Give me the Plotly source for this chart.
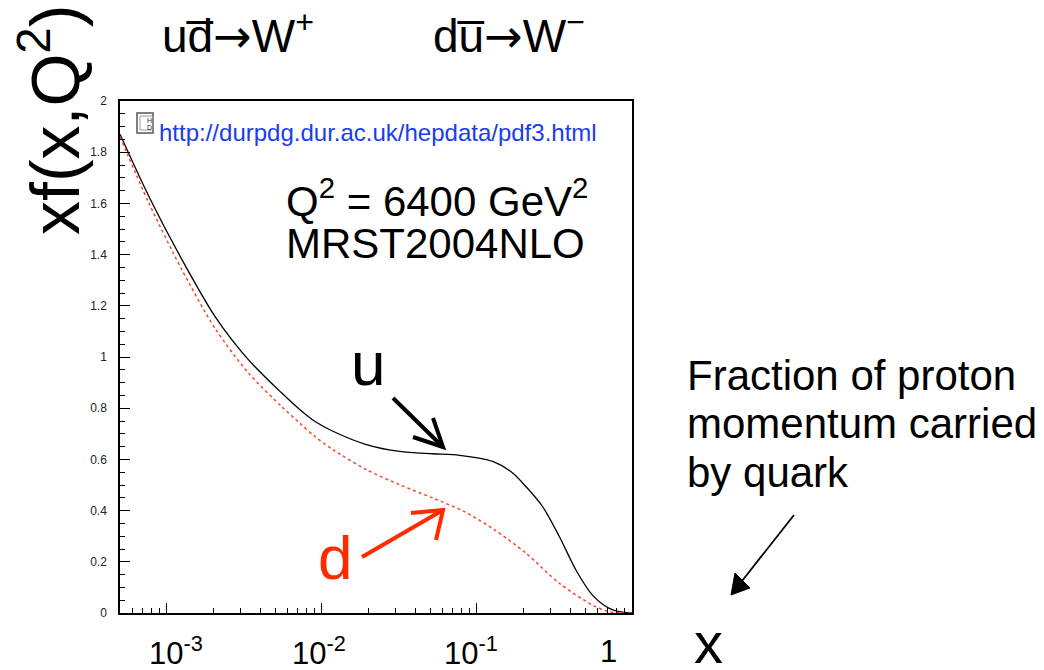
import numpy as np
import plotly.graph_objects as go

# Parton densities xf(x, Q^2) at Q^2 = 6400 GeV^2 (MRST2004NLO)
x_u = [5e-4, 7.65e-4, 1.25e-3, 2.05e-3, 3.36e-3, 5.5e-3, 7.2e-3, 9.0e-3, 0.0118,
       0.0194, 0.0318, 0.052, 0.0773, 0.1265, 0.170, 0.207, 0.265, 0.340, 0.435,
       0.556, 0.713, 0.826, 1.0]
xf_u = [1.87, 1.629, 1.382, 1.158, 0.990, 0.860, 0.795, 0.749, 0.710,
        0.658, 0.631, 0.622, 0.616, 0.592, 0.547, 0.494, 0.416, 0.299, 0.168,
        0.070, 0.018, 0.005, 0.0]

x_d = [5e-4, 7.65e-4, 1.25e-3, 2.05e-3, 3.36e-3, 5.5e-3, 7.2e-3, 9.0e-3, 0.0118,
       0.0194, 0.0318, 0.052, 0.083, 0.13, 0.207, 0.340, 0.556, 0.713, 1.0]
xf_d = [1.86, 1.603, 1.342, 1.112, 0.938, 0.807, 0.742, 0.690, 0.638,
        0.560, 0.501, 0.449, 0.396, 0.325, 0.234, 0.116, 0.031, 0.005, 0.0]

x_range = [5e-4, 1.0]
y_range = [0.0, 2.0]
x_tick_exps = [-3, -2, -1, 0]
x_tick_text = ["10<sup>-3</sup>", "10<sup>-2</sup>", "10<sup>-1</sup>", "1"]
x_tick_shift = [9, -3, -6, -24]

W, H = 1044, 670
L, R, T, B = 120, 412, 101, 57
PW, PH = W - L - R, H - T - B

def fx(p):
    # pixel column -> paper fraction
    return (p - L) / PW

def fy(p):
    # pixel row -> paper fraction
    return (H - B - p) / PH

FONT = "Liberation Sans, Arial, sans-serif"
RED = "#ff2a00"
ARROW = '<span style="font-family:DejaVu Sans">\u2192</span>'

fig = go.Figure()
fig.add_trace(go.Scatter(x=x_u, y=xf_u, mode="lines",
                         line=dict(color="black", width=1.3, shape="spline", smoothing=0.8)))
fig.add_trace(go.Scatter(x=x_d, y=xf_d, mode="lines",
                         line=dict(color="#ff3b1f", width=1.4, dash="dot", shape="spline", smoothing=0.8)))

fig.update_layout(
    width=W, height=H,
    margin=dict(l=L, r=R, t=T, b=B),
    paper_bgcolor="white", plot_bgcolor="white",
    showlegend=False,
    font=dict(family=FONT, color="black"),
)
fig.update_xaxes(
    type="log", range=[np.log10(x_range[0]), np.log10(x_range[1])],
    showline=True, linecolor="black", linewidth=1.5, mirror=True,
    ticks="inside", ticklen=10, tickwidth=1.2, tickcolor="black", dtick=1,
    showticklabels=False, showgrid=False, zeroline=False,
    minor=dict(ticks="inside", ticklen=5, tickwidth=1.2, tickcolor="black", dtick="D1", showgrid=False),
)
fig.update_yaxes(
    range=y_range, dtick=0.2,
    showline=True, linecolor="black", linewidth=1.5, mirror=True,
    ticks="inside", ticklen=10, tickwidth=1.2, tickcolor="black",
    tickfont=dict(size=12, color="#222"), ticklabelstandoff=9,
    showgrid=False, zeroline=False,
    minor=dict(ticks="inside", ticklen=5, tickwidth=1.2, tickcolor="black", dtick=0.05, showgrid=False),
)


def note(x, y, text, size, color="black", xanchor="center", xref="paper", **kw):
    return dict(x=x, y=y, xref=xref, yref="paper", text=text, showarrow=False,
                xanchor=xanchor, yanchor="middle", font=dict(size=size, color=color), **kw)


ann = []
# x tick labels
for e, t, s in zip(x_tick_exps, x_tick_text, x_tick_shift):
    ann.append(note(e, fy(651), t, 31, xref="x", xshift=s))
# axis titles
ann.append(note(fx(50), fy(120), "xf(x,Q<sup>2</sup>)", 68, textangle=-90))
ann.append(note(fx(708), fy(642), "x", 58))
# process labels
ann.append(note(fx(238), fy(33), "ud\u0305" + ARROW + "W<sup>+</sup>", 46))
ann.append(note(fx(509), fy(33), "du\u0305" + ARROW + "W<sup>\u2212</sup>", 46))
# source and fit info
ann.append(note(fx(157), fy(132), "http://durpdg.dur.ac.uk/hepdata/pdf3.html", 24,
                color="#1a3cf0", xanchor="left"))
ann.append(note(fx(284), fy(198), "Q<sup>2</sup> = 6400 GeV<sup>2</sup>", 42, xanchor="left"))
ann.append(note(fx(284), fy(243), "MRST2004NLO", 42, xanchor="left"))
# curve labels
ann.append(note(fx(368), fy(363), "u", 62))
ann.append(note(fx(335), fy(557), "d", 62, color=RED))
# side note
for i, line in enumerate(["Fraction of proton", "momentum carried", "by quark"]):
    ann.append(note(fx(685), fy(375 + 48.5 * i), line, 42, xanchor="left"))
# icon text
ann.append(note(fx(149), fy(120), "H", 7, color="#333"))
ann.append(note(fx(149), fy(127), "D", 7, color="#333"))
fig.update_layout(annotations=ann)


def path(points, close=False):
    s = "M " + " L ".join(f"{fx(a):.5f},{fy(b):.5f}" for a, b in points)
    return s + (" Z" if close else "")


shapes = [
    # small icon box
    dict(type="rect", xref="paper", yref="paper", x0=fx(137), x1=fx(153), y0=fy(113), y1=fy(133),
         line=dict(color="#555", width=1.5), fillcolor="white"),
    dict(type="rect", xref="paper", yref="paper", x0=fx(140), x1=fx(153), y0=fy(116), y1=fy(130),
         line=dict(color="#999", width=1)),
    # u arrow
    dict(type="path", xref="paper", yref="paper", path=path([(393, 398), (443, 447)]),
         line=dict(color="black", width=4)),
    dict(type="path", xref="paper", yref="paper", path=path([(413, 437), (443, 447), (433, 418)]),
         line=dict(color="black", width=4)),
    # d arrow
    dict(type="path", xref="paper", yref="paper", path=path([(362, 557), (443, 510)]),
         line=dict(color=RED, width=4)),
    dict(type="path", xref="paper", yref="paper", path=path([(411, 513), (443, 510), (436, 540)]),
         line=dict(color=RED, width=4)),
    # x arrow
    dict(type="path", xref="paper", yref="paper", path=path([(794, 515), (742, 581)]),
         line=dict(color="black", width=1.8)),
    dict(type="path", xref="paper", yref="paper", path=path([(731, 595), (750, 588), (735, 573)], close=True),
         line=dict(color="black", width=1), fillcolor="black"),
]
fig.update_layout(shapes=shapes)

fig.write_html("out.html")
